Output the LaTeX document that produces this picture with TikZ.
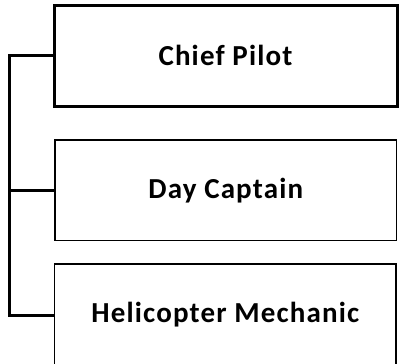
\documentclass[tikz,border=0pt]{standalone}
\usepackage{fontspec}
\setmainfont{Carlito}
\newfontfamily\boxfont[LetterSpace=4]{Carlito}
\begin{document}
\begin{tikzpicture}[x=1pt,y=-1pt]
\tikzset{
  box/.style={draw=black, line width=1.4pt, fill=white, inner sep=0pt,
    font=\boxfont\bfseries\fontsize{29}{33}\selectfont},
  thickbox/.style={box, line width=3pt},
  conn/.style={draw=black, line width=3pt}
}
\useasboundingbox (0,0) rectangle (399,364);
\coordinate (spine) at (9.5,0);
\node[thickbox, minimum width=343pt, minimum height=101pt] (chief) at (225.5,55.5) {Chief Pilot};
\node[box, minimum width=341.5pt, minimum height=100.5pt] (day) at (225.75,190.25) {Day Captain};
\node[box, minimum width=341.5pt, minimum height=102pt] (heli) at (225.25,315) {Helicopter Mechanic};
\draw[conn] (chief.west) -- (chief.west -| spine) -- (heli.west -| spine) -- (heli.west);
\draw[conn, line width=2.5pt] (day.west) -- (day.west -| spine);
\end{tikzpicture}
\end{document}
